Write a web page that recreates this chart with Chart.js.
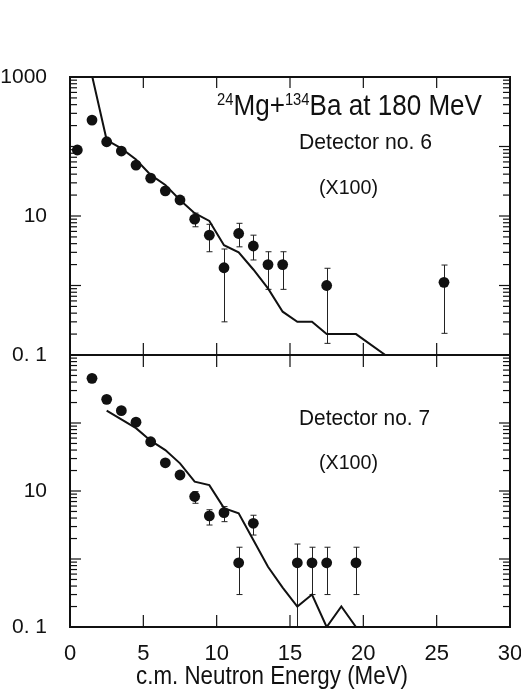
<!DOCTYPE html>
<html>
<head>
<meta charset="utf-8">
<script src="https://cdn.jsdelivr.net/npm/chart.js@4.4.1/dist/chart.umd.min.js"></script>
<style>
  html, body { margin: 0; padding: 0; background: #fff; }
  canvas { display: block; }
</style>
</head>
<body>
<canvas id="spectrum" width="521" height="696"></canvas>
<script>
// detector no. 6 : measured spectrum (x100) and calculation
const det6Energy = [0.5, 1.5, 2.5, 3.5, 4.5, 5.5, 6.5, 7.5, 8.5, 9.5, 10.5, 11.5, 12.5, 13.5, 14.5, 17.5, 25.5];
const det6Yield  = [89, 240, 117, 86, 54, 35, 23, 17, 9.0, 5.3, 1.8, 5.6, 3.7, 2.0, 2.0, 1.0, 1.11];
const det6ErrLow  = [null, null, null, null, null, null, null, null, 7.0, 3.06, 0.30, 3.6, 2.33, 0.88, 0.88, 0.147, 0.205];
const det6ErrHigh = [null, null, null, null, null, null, null, null, 11.0, 7.6, 3.35, 7.85, 5.3, 3.06, 3.06, 1.77, 1.97];
const det6CalcEnergy = [1.5, 2.5, 3.5, 4.5, 5.5, 6.5, 7.5, 8.5, 9.5, 10.5, 11.5, 12.5, 13.5, 14.5, 15.5, 16.5, 17.5, 18.5, 19.5, 21.5];
const det6CalcYield  = [1050, 124, 94, 65, 39, 28, 17, 11, 8.5, 3.8, 3.0, 1.7, 0.91, 0.42, 0.3, 0.3, 0.2, 0.2, 0.2, 0.1];

// detector no. 7
const det7Energy = [1.5, 2.5, 3.5, 4.5, 5.5, 6.5, 7.5, 8.5, 9.5, 10.5, 11.5, 12.5, 15.5, 16.5, 17.5, 19.5];
const det7Yield  = [454, 223, 152, 103, 53, 26, 17.2, 8.3, 4.3, 4.8, 0.88, 3.35, 0.88, 0.88, 0.88, 0.88];
const det7ErrLow  = [null, null, null, null, null, null, null, 6.6, 3.16, 3.54, 0.3, 2.25, 0.1, 0.3, 0.3, 0.3];
const det7ErrHigh = [null, null, null, null, null, null, null, 9.8, 5.3, 5.9, 1.49, 4.4, 1.66, 1.49, 1.49, 1.49];
const det7CalcEnergy = [2.5, 3.5, 4.5, 5.5, 6.5, 7.5, 8.5, 9.5, 10.5, 11.5, 12.5, 13.5, 14.5, 15.5, 16.5, 17.5, 18.5, 19.5];
const det7CalcYield  = [152, 113, 84, 55, 40, 25.5, 13.7, 12.2, 5.6, 4.7, 1.9, 0.77, 0.38, 0.2, 0.3, 0.1, 0.2, 0.1];

const xTickValues = [0, 5, 10, 15, 20, 25, 30];
const yTopLabels = { 0.1: '0. 1', 10: '10', 1000: '1000' };
const yBotLabels = { 0.1: '0. 1', 10: '10' };

const FAMILY = "'Liberation Sans', Arial, Helvetica, sans-serif";
const INK = '#111';

function points(xs, ys) {
  return xs.map((x, i) => ({ x: x, y: ys[i] }));
}

// vertical error bars with small caps, drawn under the markers
const errorBars = {
  id: 'errorBars',
  beforeDatasetsDraw(chart) {
    const ctx = chart.ctx;
    const xs = chart.scales.x;
    ctx.save();
    ctx.strokeStyle = '#222';
    ctx.lineWidth = 1;
    chart.data.datasets.forEach(ds => {
      if (!ds.errLow) return;
      const ys = chart.scales[ds.yAxisID];
      ds.data.forEach((p, i) => {
        if (ds.errLow[i] == null) return;
        const px = Math.round(xs.getPixelForValue(p.x)) + 0.5;
        const lo = ys.getPixelForValue(ds.errLow[i]);
        const hi = ys.getPixelForValue(ds.errHigh[i]);
        ctx.beginPath();
        ctx.moveTo(px, lo); ctx.lineTo(px, hi);
        ctx.moveTo(px - 3, lo); ctx.lineTo(px + 3, lo);
        ctx.moveTo(px - 3, hi); ctx.lineTo(px + 3, hi);
        ctx.stroke();
      });
    });
    ctx.restore();
  }
};

// box round both panels, the shared middle axis and inward tick marks
const frame = {
  id: 'frame',
  afterDatasetsDraw(chart) {
    const { ctx, chartArea: a } = chart;
    const { x, yTop, yBot } = chart.scales;
    const mid = yTop.bottom;
    const seg = (x1, y1, x2, y2) => { ctx.beginPath(); ctx.moveTo(x1, y1); ctx.lineTo(x2, y2); ctx.stroke(); };
    ctx.save();
    ctx.strokeStyle = INK;
    ctx.lineWidth = 2;
    ctx.strokeRect(a.left, a.top, a.right - a.left, a.bottom - a.top);
    seg(a.left, mid, a.right, mid);
    ctx.lineWidth = 1.2;
    [yTop, yBot].forEach(s => {
      for (let d = -1; d < 3; d++) {
        for (let m = 1; m < 10; m++) {
          const py = s.getPixelForValue(m * Math.pow(10, d));
          const len = m === 1 ? 11 : 7;
          seg(a.left, py, a.left + len, py);
          seg(a.right - len, py, a.right, py);
        }
      }
    });
    for (let e = 5; e < 30; e += 5) {
      const px = x.getPixelForValue(e);
      seg(px, a.top, px, a.top + 11);
      seg(px, mid - 12, px, mid + 12);
      seg(px, a.bottom - 12, px, a.bottom);
    }
    ctx.restore();
  }
};

// text runs squeezed horizontally to the width of the lettering
function drawRuns(ctx, runs, left, baseline, width) {
  let natural = 0;
  runs.forEach(r => { ctx.font = r.size + 'px ' + FAMILY; natural += ctx.measureText(r.text).width; });
  ctx.save();
  ctx.translate(left, baseline);
  ctx.scale(width / natural, 1);
  let cx = 0;
  runs.forEach(r => {
    ctx.font = r.size + 'px ' + FAMILY;
    ctx.fillText(r.text, cx, -(r.rise || 0));
    cx += ctx.measureText(r.text).width;
  });
  ctx.restore();
}

const notes = {
  id: 'notes',
  afterDraw(chart) {
    const ctx = chart.ctx;
    ctx.save();
    ctx.fillStyle = INK;
    ctx.textBaseline = 'alphabetic';
    ctx.textAlign = 'left';
    drawRuns(ctx, [
      { text: '24', size: 17, rise: 10 },
      { text: 'Mg+', size: 30 },
      { text: '134', size: 17, rise: 10 },
      { text: 'Ba at 180 MeV', size: 30 }
    ], 217, 115, 265);
    drawRuns(ctx, [{ text: 'Detector no. 6', size: 22 }], 299, 149, 133);
    drawRuns(ctx, [{ text: '(X100)', size: 21 }], 319, 194, 59);
    drawRuns(ctx, [{ text: 'Detector no. 7', size: 22 }], 299, 425, 131);
    drawRuns(ctx, [{ text: '(X100)', size: 21 }], 319, 469, 59);
    drawRuns(ctx, [{ text: 'c.m. Neutron Energy (MeV)', size: 25 }], 136, 684, 272);
    ctx.restore();
  }
};

function logAxis(labels, weight) {
  return {
    type: 'logarithmic',
    position: 'left',
    stack: 'panels',
    stackWeight: weight,
    min: 0.1,
    max: 1000,
    grid: { display: false },
    border: { display: false },
    afterBuildTicks: s => { s.ticks = Object.keys(labels).map(v => ({ value: Number(v) })); },
    afterFit: s => { s.width = 70; },
    ticks: {
      autoSkip: false,
      padding: 15,
      color: INK,
      font: { family: FAMILY, size: 21 },
      callback: v => labels[v] || ''
    }
  };
}

new Chart(document.getElementById('spectrum'), {
  type: 'scatter',
  data: {
    datasets: [
      {
        label: 'Detector no. 6 calc',
        yAxisID: 'yTop',
        data: points(det6CalcEnergy, det6CalcYield),
        showLine: true,
        borderColor: INK,
        borderWidth: 2,
        pointRadius: 0
      },
      {
        label: 'Detector no. 6',
        yAxisID: 'yTop',
        data: points(det6Energy, det6Yield),
        errLow: det6ErrLow,
        errHigh: det6ErrHigh,
        pointRadius: 5.4,
        pointBackgroundColor: INK,
        pointBorderWidth: 0
      },
      {
        label: 'Detector no. 7 calc',
        yAxisID: 'yBot',
        data: points(det7CalcEnergy, det7CalcYield),
        showLine: true,
        borderColor: INK,
        borderWidth: 2,
        pointRadius: 0
      },
      {
        label: 'Detector no. 7',
        yAxisID: 'yBot',
        data: points(det7Energy, det7Yield),
        errLow: det7ErrLow,
        errHigh: det7ErrHigh,
        pointRadius: 5.4,
        pointBackgroundColor: INK,
        pointBorderWidth: 0
      }
    ]
  },
  options: {
    responsive: false,
    animation: false,
    events: [],
    layout: { padding: { left: 0, right: 11, top: 77, bottom: 9 } },
    plugins: { legend: { display: false }, tooltip: { enabled: false } },
    scales: {
      x: {
        type: 'linear',
        position: 'bottom',
        min: 0,
        max: 30,
        grid: { display: false },
        border: { display: false },
        afterBuildTicks: s => { s.ticks = xTickValues.map(v => ({ value: v })); },
        afterFit: s => { s.height = 60; s.paddingLeft = 0; s.paddingRight = 0; },
        ticks: {
          autoSkip: false,
          maxRotation: 0,
          padding: 6,
          color: INK,
          font: { family: FAMILY, size: 22 }
        }
      },
      yBot: logAxis(yBotLabels, 272),
      yTop: logAxis(yTopLabels, 278)
    }
  },
  plugins: [errorBars, frame, notes]
});
</script>
</body>
</html>
